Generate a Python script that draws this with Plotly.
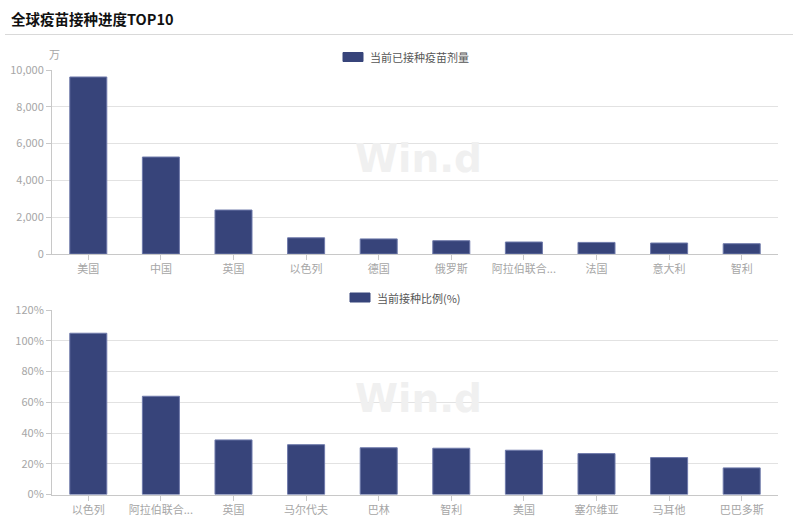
import plotly.graph_objects as go

W, H = 796, 531

# ---- data ----
top_categories = ["美国", "中国", "英国", "以色列", "德国", "俄罗斯", "阿拉伯联合...", "法国", "意大利", "智利"]
top_values = [9620, 5270, 2390, 880, 820, 723, 652, 630, 598, 560]  # 万剂
top_series_name = "当前已接种疫苗剂量"

bottom_categories = ["以色列", "阿拉伯联合...", "英国", "马尔代夫", "巴林", "智利", "美国", "塞尔维亚", "马耳他", "巴巴多斯"]
bottom_values = [104.9, 63.9, 35.5, 32.4, 30.4, 30.1, 28.8, 26.6, 24.0, 17.3]  # %
bottom_series_name = "当前接种比例(%)"

top_ticks = [0, 2000, 4000, 6000, 8000, 10000]
bottom_ticks = [0, 20, 40, 60, 80, 100, 120]
bottom_tick_labels = ["0%", "20%", "40%", "60%", "80%", "100%", "120%"]

title_text = "全球疫苗接种进度TOP10"
unit_text = "万"
watermark = "Win.d"

# ---- style ----
BAR = "#37447a"
EDGE = "#6f7aab"
FONT = "Noto Sans CJK SC"
TICK_COLOR = "#a6a6a6"
GRID = "#e2e2e2"

def px(x):
    return x / W

def py(y):
    return 1 - y / H

fig = go.Figure()
fig.add_trace(go.Bar(x=top_categories, y=top_values, name=top_series_name,
                     marker=dict(color=BAR, line=dict(color=EDGE, width=1)),
                     width=0.51, xaxis="x", yaxis="y", showlegend=False))
fig.add_trace(go.Bar(x=bottom_categories, y=bottom_values, name=bottom_series_name,
                     marker=dict(color=BAR, line=dict(color=EDGE, width=1)),
                     width=0.51, xaxis="x2", yaxis="y2", showlegend=False))

xcommon = dict(showgrid=False, showline=True, linecolor="#c8c8c8", linewidth=1,
               ticks="outside", ticklen=5, tickcolor="#c8c8c8",
               tickfont=dict(family=FONT, size=11, color=TICK_COLOR),
               automargin=False, fixedrange=True, tickangle=0)
ycommon = dict(showgrid=True, gridcolor=GRID, gridwidth=1, showline=True, linecolor="#c8c8c8",
               linewidth=1, ticks="outside", ticklen=5, tickcolor="#c8c8c8",
               tickfont=dict(family=FONT, size=11, color=TICK_COLOR),
               zeroline=False, automargin=False, fixedrange=True)

fig.update_layout(
    width=W, height=H,
    margin=dict(l=0, r=0, t=0, b=0, autoexpand=False),
    paper_bgcolor="white", plot_bgcolor="white",
    xaxis=dict(domain=[px(52), px(778)], anchor="y", **xcommon),
    yaxis=dict(domain=[py(254), py(70)], anchor="x", range=[0, 10000],
               tickvals=top_ticks, tickformat=",", **ycommon),
    xaxis2=dict(domain=[px(52), px(778)], anchor="y2", **xcommon),
    yaxis2=dict(domain=[py(494.5), py(310)], anchor="x2", range=[0, 120],
                tickvals=bottom_ticks, ticktext=bottom_tick_labels, **ycommon),
    showlegend=False,
)

shapes = [
    # title underline
    dict(type="line", xref="paper", yref="paper", x0=px(5), x1=px(793), y0=py(34.5), y1=py(34.5),
         line=dict(color="#d9d9d9", width=1)),
    # legend swatches
    dict(type="rect", xref="paper", yref="paper", x0=px(343), x1=px(363), y0=py(61.5), y1=py(52.5),
         fillcolor=BAR, line=dict(color=BAR, width=1)),
    dict(type="rect", xref="paper", yref="paper", x0=px(350), x1=px(370), y0=py(302), y1=py(293),
         fillcolor=BAR, line=dict(color=BAR, width=1)),
]
fig.update_layout(shapes=shapes)

ann = [
    dict(text=f"<b>{title_text}</b>", x=px(9), y=py(18), xanchor="left", yanchor="middle",
         font=dict(family=FONT, size=14.5, color="#111111")),
    dict(text=unit_text, x=px(54), y=py(54), xanchor="center", yanchor="middle",
         font=dict(family=FONT, size=11, color=TICK_COLOR)),
    dict(text=top_series_name, x=px(368), y=py(57), xanchor="left", yanchor="middle",
         font=dict(family=FONT, size=11, color="#555555")),
    dict(text=bottom_series_name, x=px(375), y=py(297.5), xanchor="left", yanchor="middle",
         font=dict(family=FONT, size=11, color="#555555")),
    dict(text=f"<b>{watermark}</b>", x=px(418), y=py(158), xanchor="center", yanchor="middle",
         font=dict(family="DejaVu Sans", size=39, color="#f0f0f0")),
    dict(text=f"<b>{watermark}</b>", x=px(418), y=py(398), xanchor="center", yanchor="middle",
         font=dict(family="DejaVu Sans", size=39, color="#f0f0f0")),
]
for a in ann:
    a.update(xref="paper", yref="paper", showarrow=False)
fig.update_layout(annotations=ann)

fig.write_html("out.html")
